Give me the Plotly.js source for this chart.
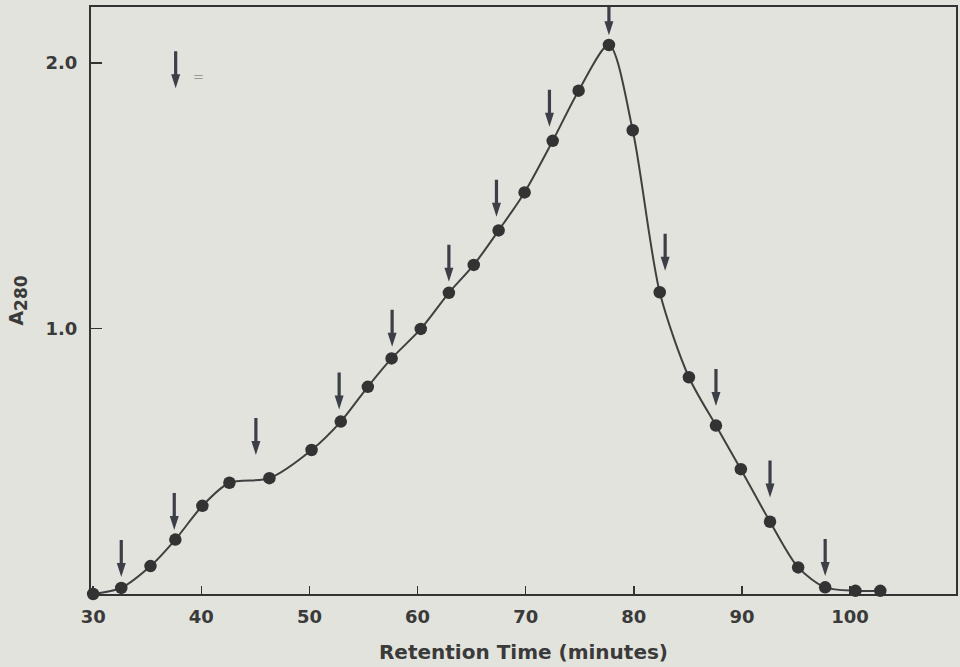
<!DOCTYPE html>
<html><head><meta charset="utf-8">
<script src="https://cdn.plot.ly/plotly-3.0.1.min.js"></script>
<style>html,body{margin:0;padding:0;background:#e2e3dc}</style>
</head><body><div id="chart" style="width:960px;height:667px"></div>
<script>
// Elution profile: retention time (min) vs absorbance at 280 nm
const retentionTime = [30, 32.6, 35.3, 37.6, 40.1, 42.6, 46.3, 50.2, 52.9, 55.4, 57.6, 60.3, 62.9, 65.2, 67.5, 69.9, 72.5, 74.9, 77.7, 79.9, 82.4, 85.1, 87.6, 89.9, 92.6, 95.2, 97.7, 100.5, 102.8];
const absorbance    = [0, 0.023, 0.105, 0.205, 0.332, 0.419, 0.436, 0.542, 0.649, 0.78, 0.887, 0.998, 1.134, 1.239, 1.369, 1.512, 1.706, 1.895, 2.067, 1.746, 1.136, 0.816, 0.634, 0.47, 0.272, 0.1, 0.025, 0.012, 0.012];

// Fraction markers (arrow tips)
const fractionTime     = [32.6, 37.5, 45.05, 52.75, 57.65, 62.9, 67.3, 72.2, 77.7, 82.9, 87.6, 92.6, 97.7];
const fractionArrowTip = [0.064, 0.241, 0.523, 0.695, 0.931, 1.176, 1.42, 1.759, 2.104, 1.217, 0.708, 0.363, 0.068];

// Key arrow and its "=" label
const keyArrowX = [37.63];
const keyArrowY = [1.904];
const keyLabelX = [39.7];
const keyLabelY = [1.948];
const keyLabelText = ['='];

const xTickVals = [30, 40, 50, 60, 70, 80, 90, 100];
const xTickText = ['30', '40', '50', '60', '70', '80', '90', '100'];
const yTickVals = [1, 2];
const yTickText = ['1.0', '2.0'];

const ink = '#3a3a3a';
const arrowInk = '#3c3f47';
const bg = '#e2e3dc';
const fontFam = 'DejaVu Sans, Liberation Sans, Arial, sans-serif';

// arrow geometry in pixels relative to tip (y up-positive)
const arrowPath = 'M0,0 L-4.5,14 L-1.6,14 L-1.6,37 L1.6,37 L1.6,14 L4.5,14 Z';

function arrowShape(x, y) {
  return {
    type: 'path', xref: 'x', yref: 'y',
    xsizemode: 'pixel', ysizemode: 'pixel',
    xanchor: x, yanchor: y,
    path: arrowPath,
    fillcolor: arrowInk, line: {width: 0}, layer: 'above'
  };
}

const shapes = [];
fractionTime.forEach((t, i) => shapes.push(arrowShape(t, fractionArrowTip[i])));
keyArrowX.forEach((t, i) => shapes.push(arrowShape(t, keyArrowY[i])));

const annotations = keyLabelX.map((x, i) => ({
  x: x, y: keyLabelY[i], xref: 'x', yref: 'y', text: keyLabelText[i],
  showarrow: false, font: {family: fontFam, size: 13, color: '#9a9a9a'}
}));

const trace = {
  x: retentionTime, y: absorbance,
  type: 'scatter', mode: 'lines+markers',
  line: {color: '#404040', width: 2, shape: 'spline', smoothing: 0.8},
  marker: {color: '#333333', size: 12.5},
  cliponaxis: false,
  hoverinfo: 'skip'
};

const axisCommon = {
  showline: true, linecolor: '#333', linewidth: 2, mirror: true,
  showgrid: false, zeroline: false,
  ticks: 'inside', tickcolor: '#333', tickwidth: 1.5,
  tickfont: {family: fontFam, size: 18, color: ink, weight: 'bold'},
  fixedrange: true
};

const layout = {
  width: 960, height: 667,
  margin: {l: 91, r: 4, t: 7, b: 73},
  paper_bgcolor: bg, plot_bgcolor: bg,
  showlegend: false,
  xaxis: Object.assign({}, axisCommon, {
    range: [29.8, 109.8],
    tickmode: 'array', tickvals: xTickVals, ticktext: xTickText,
    ticklen: 8, ticklabelstandoff: 5,
    title: {text: 'Retention Time (minutes)', standoff: 19,
            font: {family: fontFam, size: 20, color: ink, weight: 'bold'}}
  }),
  yaxis: Object.assign({}, axisCommon, {
    range: [0, 2.21],
    tickmode: 'array', tickvals: yTickVals, ticktext: yTickText,
    ticklen: 11, ticklabelstandoff: 8,
    title: {text: 'A<sub><span style="font-size:17px">280</span></sub>', standoff: 17,
            font: {family: fontFam, size: 19, color: ink, weight: 'bold'}}
  }),
  shapes: shapes,
  annotations: annotations
};

Plotly.newPlot('chart', [trace], layout, {staticPlot: true, displayModeBar: false});
</script>
</body></html>
